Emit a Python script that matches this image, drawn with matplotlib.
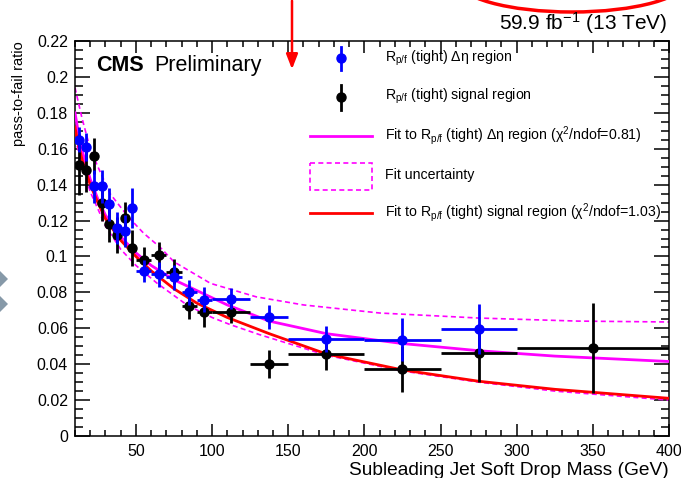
import matplotlib
matplotlib.use("Agg")
import matplotlib.pyplot as plt
from matplotlib.patches import Rectangle, Polygon, Arc
from matplotlib.ticker import MultipleLocator

plt.rcParams['font.family'] = ['Liberation Sans', 'DejaVu Sans']
plt.rcParams['mathtext.fontset'] = 'custom'
plt.rcParams['mathtext.rm'] = 'Liberation Sans'
plt.rcParams['mathtext.it'] = 'Liberation Sans:italic'
plt.rcParams['mathtext.bf'] = 'Liberation Sans:bold'

# ---------------- data ----------------
mass_bins = [12.5, 17.5, 22.5, 27.5, 32.5, 37.5, 42.5, 47.5, 55, 65, 75, 85, 95, 112.5, 137.5, 175, 225, 275, 350]
mass_halfwidth = [2.5, 2.5, 2.5, 2.5, 2.5, 2.5, 2.5, 2.5, 5, 5, 5, 5, 5, 12.5, 12.5, 25, 25, 25, 50]

deta_ratio = [0.165, 0.161, 0.139, 0.139, 0.129, 0.116, 0.114, 0.127, 0.092, 0.090, 0.0885, 0.080, 0.0758, 0.0765, 0.0663, 0.054, 0.0535, 0.0596]
deta_err = [0.007, 0.008, 0.009, 0.009, 0.009, 0.009, 0.009, 0.011, 0.006, 0.007, 0.007, 0.007, 0.007, 0.006, 0.0065, 0.007, 0.012, 0.014]

signal_ratio = [0.151, 0.148, 0.156, 0.130, 0.118, 0.112, 0.1215, 0.1047, 0.098, 0.1008, 0.0914, 0.0724, 0.0688, 0.069, 0.0401, 0.0457, 0.0373, 0.0462, 0.049]
signal_err = [0.017, 0.012, 0.010, 0.010, 0.010, 0.010, 0.009, 0.010, 0.007, 0.007, 0.007, 0.007, 0.008, 0.006, 0.008, 0.009, 0.013, 0.016, 0.025]

fit_x = [10, 12, 15, 20, 25, 30, 40, 50, 60, 75, 90, 110, 137.5, 175, 225, 275, 325, 400]
fit_deta = [0.180, 0.170, 0.158, 0.143, 0.132, 0.123, 0.111, 0.102, 0.095, 0.087, 0.081, 0.073, 0.064, 0.057, 0.0515, 0.0475, 0.0445, 0.0415]
fit_signal = [0.172, 0.163, 0.153, 0.140, 0.130, 0.121, 0.109, 0.100, 0.092, 0.082, 0.074, 0.066, 0.057, 0.0457, 0.0368, 0.0305, 0.026, 0.021]

band_up_x = [10, 14.6, 20, 25, 33, 45, 55, 66, 75, 99, 129, 160, 210, 275, 340, 400]
band_up = [0.194, 0.177, 0.160, 0.150, 0.135, 0.122, 0.113, 0.105, 0.097, 0.085, 0.0775, 0.073, 0.0685, 0.0657, 0.064, 0.0635]
band_lo_x = [10, 15, 20, 30, 40, 50, 64, 83.5, 100, 112, 131, 175, 225, 275, 325, 400]
band_lo = [0.166, 0.150, 0.136, 0.117, 0.104, 0.095, 0.085, 0.073, 0.066, 0.062, 0.0565, 0.045, 0.0362, 0.030, 0.025, 0.020]

x_ticks = [50, 100, 150, 200, 250, 300, 350, 400]
y_ticks = [0, 0.02, 0.04, 0.06, 0.08, 0.1, 0.12, 0.14, 0.16, 0.18, 0.2, 0.22]
y_ticklabels = ['0', '0.02', '0.04', '0.06', '0.08', '0.1', '0.12', '0.14', '0.16', '0.18', '0.2', '0.22']

# ---------------- figure ----------------
W, H = 681, 478
fig = plt.figure(figsize=(W / 100, H / 100), dpi=100)
ax = fig.add_axes([75 / W, 42 / H, (669 - 75) / W, (436 - 41) / H])

MAG = '#ff00ff'
ax.plot(band_up_x, band_up, color=MAG, lw=1.2, ls=(0, (3, 2)), zorder=2)
ax.plot(band_lo_x, band_lo, color=MAG, lw=1.2, ls=(0, (3, 2)), zorder=2)
ax.plot(fit_x, fit_deta, color=MAG, lw=2, zorder=3)
ax.plot(fit_x, fit_signal, color='#ff0000', lw=2, zorder=4)

ax.errorbar(mass_bins, signal_ratio, yerr=signal_err, xerr=mass_halfwidth, fmt='o',
            color='black', ms=6.5, elinewidth=2, capsize=0, zorder=5)
n_b = len(deta_ratio)
ax.errorbar(mass_bins[:n_b], deta_ratio, yerr=deta_err, xerr=mass_halfwidth[:n_b], fmt='o',
            color='#0000ff', ms=6.5, elinewidth=2, capsize=0, zorder=6)

ax.set_xlim(10, 400)
ax.set_ylim(0, 0.22)
ax.set_xticks(x_ticks)
ax.set_xticklabels([str(v) for v in x_ticks])
ax.set_yticks(y_ticks)
ax.set_yticklabels(y_ticklabels)
ax.xaxis.set_minor_locator(MultipleLocator(10))
ax.yaxis.set_minor_locator(MultipleLocator(0.005))
ax.tick_params(axis='both', which='both', direction='in', top=True, right=True,
               labelsize=11.5, width=1.1)
ax.tick_params(axis='x', which='major', length=8.5, pad=6)
ax.tick_params(axis='x', which='minor', length=4.3)
ax.tick_params(axis='y', which='major', length=11, pad=5)
ax.tick_params(axis='y', which='minor', length=5.8)
for s in ax.spines.values():
    s.set_linewidth(1.1)

ax.set_xlabel('Subleading Jet Soft Drop Mass (GeV)', fontsize=13.8, loc='right', labelpad=2)
ax.set_ylabel('pass-to-fail ratio', fontsize=10.5, loc='top', labelpad=8)

# ---------------- overlay (texts, legend, annotations) ----------------
ov = fig.add_axes([0, 0, 1, 1], zorder=10)
ov.set_xlim(0, W)
ov.set_ylim(H, 0)
ov.axis('off')

ov.text(668, 30, r'59.9 fb$^{-1}$ (13 TeV)', fontsize=15, ha='right', va='baseline')
ov.text(96, 71, 'CMS', fontsize=15.5, fontweight='bold', ha='left', va='baseline')
ov.text(154, 71, 'Preliminary', fontsize=15.5, ha='left', va='baseline')

# legend
lx_t = 385
fs_l = 10.2
ov.plot([341, 341], [47, 70], color='#0000ff', lw=2)
ov.plot([341], [58], 'o', color='#0000ff', ms=6.5)
ov.text(lx_t, 58, r'R$_{\rm p/f}$ (tight) Δη region', fontsize=fs_l, va='center')
ov.plot([341, 341], [85, 110], color='black', lw=2)
ov.plot([341], [97], 'o', color='black', ms=6.5)
ov.text(lx_t, 96, r'R$_{\rm p/f}$ (tight) signal region', fontsize=fs_l, va='center')
ov.plot([310, 372], [136, 136], color=MAG, lw=2)
ov.text(lx_t, 136, r'Fit to R$_{\rm p/f}$ (tight) Δη region (χ$^{2}$/ndof=0.81)', fontsize=fs_l, va='center')
ov.add_patch(Rectangle((310, 163), 62, 27, fill=False, edgecolor=MAG, lw=1.2, ls=(0, (3, 2))))
ov.text(lx_t, 175, 'Fit uncertainty', fontsize=fs_l, va='center')
ov.plot([310, 372], [213, 213], color='#ff0000', lw=2)
ov.text(lx_t, 213, r'Fit to R$_{\rm p/f}$ (tight) signal region (χ$^{2}$/ndof=1.03)', fontsize=fs_l, va='center')

# red annotation arrow and arc
ov.annotate('', xy=(292, 72), xytext=(292, -2),
            arrowprops=dict(arrowstyle='-|>,head_width=0.35,head_length=0.9', color='#ff0000', lw=1.8))
ov.add_patch(Arc((572, -20), 230, 64, theta1=0, theta2=180, color='#ff0000', lw=2.5))

# side markers (slide artefacts)
for cy in (279, 304):
    ov.add_patch(Polygon([[-8, cy], [0, cy - 8], [8, cy], [0, cy + 8]], closed=True,
                         color='#8699a8', lw=0))

fig.savefig('out.png', dpi=100)
